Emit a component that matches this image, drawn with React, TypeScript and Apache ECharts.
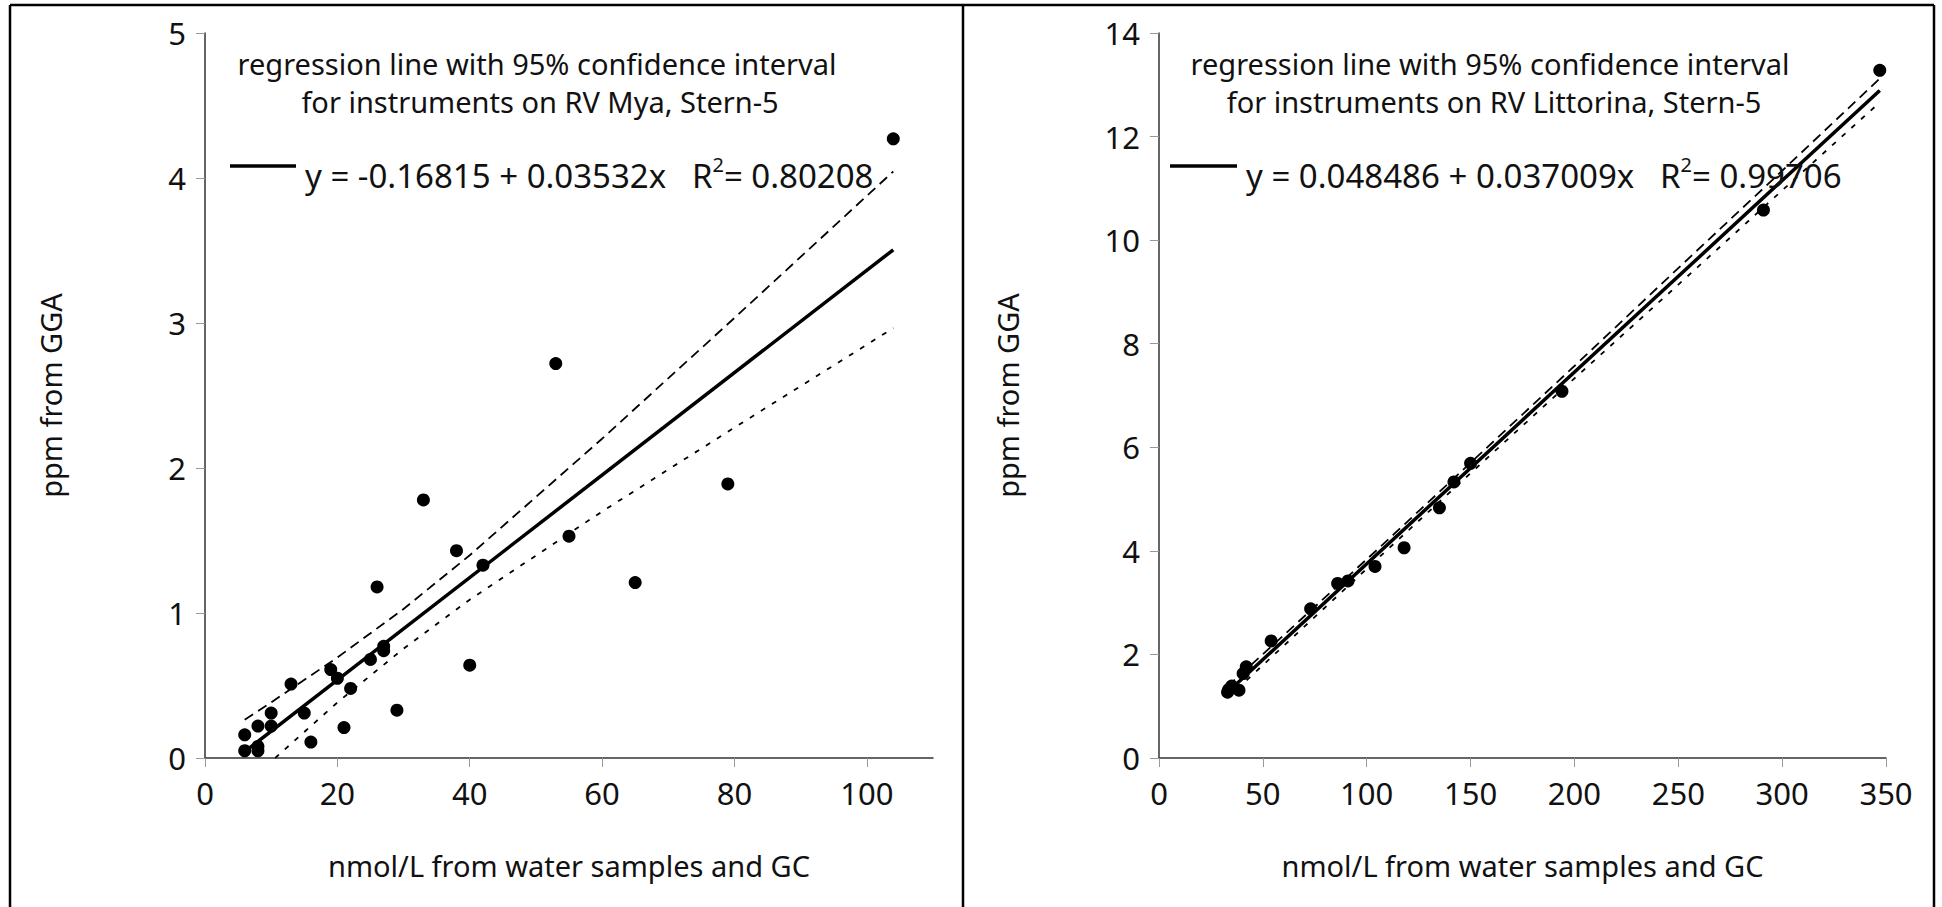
import React, { useEffect, useRef } from "react";
import * as echarts from "echarts";

// ---- Left panel: RV Mya ----
const myaX = [6, 6, 8, 8, 8, 10, 10, 13, 15, 16, 19, 20, 21, 22, 25, 26, 27, 27, 29, 33, 38, 40, 42, 53, 55, 65, 79, 104];
const myaY = [0.16, 0.05, 0.22, 0.08, 0.05, 0.31, 0.22, 0.51, 0.31, 0.11, 0.61, 0.55, 0.21, 0.48, 0.68, 1.18, 0.77, 0.74, 0.33, 1.78, 1.43, 0.64, 1.33, 2.72, 1.53, 1.21, 1.89, 4.27];
const myaFitX = [6, 104];
const myaFitY = [0.044, 3.505];
const myaUpperX = [6, 10, 20, 30, 40, 60, 80, 104];
const myaUpperY = [0.264, 0.384, 0.693, 1.028, 1.398, 2.202, 3.035, 4.045];
const myaLowerX = [10.6, 20, 30, 40, 60, 80, 104];
const myaLowerY = [0.0, 0.383, 0.754, 1.092, 1.7, 2.279, 2.965];
const myaXTicks = [0, 20, 40, 60, 80, 100];
const myaYTicks = [0, 1, 2, 3, 4, 5];

// ---- Right panel: RV Littorina ----
const litX = [33, 33.5, 35, 38.5, 40.5, 42, 54, 73, 86, 91, 104, 118, 135, 142, 150, 194, 291, 347];
const litY = [1.27, 1.32, 1.39, 1.31, 1.63, 1.76, 2.26, 2.88, 3.37, 3.42, 3.7, 4.06, 4.83, 5.33, 5.69, 7.08, 10.58, 13.28];
const litFitX = [33, 347];
const litFitY = [1.27, 12.891];
const litUpperX = [33, 105, 150, 200, 250, 300, 347];
const litUpperY = [1.38, 4.02, 5.7, 7.57, 9.46, 11.34, 13.12];
const litLowerX = [33, 105, 150, 200, 250, 300, 347];
const litLowerY = [1.16, 3.84, 5.5, 7.33, 9.14, 10.96, 12.66];
const litXTicks = [0, 50, 100, 150, 200, 250, 300, 350];
const litYTicks = [0, 2, 4, 6, 8, 10, 12, 14];

const titleLine1 = "regression line with 95% confidence interval";
const myaLine2 = "for instruments on RV Mya, Stern-5";
const litLine2 = "for instruments on RV Littorina, Stern-5";
const myaEq = "y = -0.16815 + 0.03532x   R{sup|2}= 0.80208";
const litEq = "y = 0.048486 + 0.037009x   R{sup|2}= 0.99706";
const xTitle = "nmol/L from water samples and GC";
const yTitle = "ppm from GGA";

const FONT = "'Noto Sans', 'DejaVu Sans', sans-serif";
const TXT = "#000";

const zip = (xs: number[], ys: number[]) => xs.map((x, i) => [x, ys[i]]);

function xAxis(gridIndex: number, max: number, interval: number, ticks: number[]) {
  return {
    gridIndex,
    type: "value",
    min: 0,
    max,
    interval,
    axisLine: { show: true, onZero: false, lineStyle: { color: "#333", width: 1.5 } },
    axisTick: { show: true, length: 9, customValues: ticks, lineStyle: { color: "#999", width: 1 } },
    axisLabel: { customValues: ticks, fontSize: 31, color: "#111", fontFamily: FONT, margin: 19 },
    splitLine: { show: false },
    name: xTitle,
    nameLocation: "middle",
    nameGap: 93,
    nameTextStyle: { fontSize: 29, color: "#111", fontFamily: FONT },
  };
}

function yAxis(gridIndex: number, max: number, interval: number, ticks: number[], gap: number) {
  return {
    gridIndex,
    type: "value",
    min: 0,
    max,
    interval,
    axisLine: { show: true, onZero: false, lineStyle: { color: "#333", width: 1.5 } },
    axisTick: { show: true, length: 9, customValues: ticks, lineStyle: { color: "#999", width: 1 } },
    axisLabel: { customValues: ticks, fontSize: 31, color: "#111", fontFamily: FONT, margin: 19 },
    splitLine: { show: false },
    name: yTitle,
    nameLocation: "middle",
    nameGap: gap,
    nameTextStyle: { fontSize: 29, color: "#111", fontFamily: FONT },
  };
}

function lineSeries(idx: number, data: number[][], width: number, type: any) {
  return {
    type: "line",
    xAxisIndex: idx,
    yAxisIndex: idx,
    data,
    showSymbol: false,
    symbol: "none",
    lineStyle: { color: "#000", width, type },
    z: 2,
  };
}

function scatterSeries(idx: number, data: number[][]) {
  return {
    type: "scatter",
    xAxisIndex: idx,
    yAxisIndex: idx,
    data,
    symbolSize: 13,
    itemStyle: { color: "#000", opacity: 1 },
    z: 3,
  };
}

function textEl(x: number, y: number, text: string, align: string, size: number) {
  return {
    type: "text",
    x,
    y,
    z: 10,
    style: {
      text,
      fontSize: size,
      fontFamily: FONT,
      fill: "#111",
      align,
      verticalAlign: "middle",
      lineHeight: Math.round(size * 1.25),
      rich: {
        sup: { fontSize: Math.round(size * 0.6), fontFamily: FONT, fill: "#111", verticalAlign: "top", lineHeight: Math.round(size * 1.25) },
      },
    },
  };
}

function borderLine(x1: number, y1: number, x2: number, y2: number) {
  return { type: "line", shape: { x1, y1, x2, y2 }, style: { stroke: "#000", lineWidth: 2.5 }, z: 10 };
}

export default function App() {
  const ref = useRef<HTMLDivElement>(null);
  useEffect(() => {
    if (!ref.current) return;
    const chart = echarts.init(ref.current, undefined, { renderer: "svg" });
    chart.setOption({
      animation: false,
      backgroundColor: "#fff",
      grid: [
        { left: 205, top: 33, width: 728, height: 725 },
        { left: 1159, top: 33, width: 727, height: 725 },
      ],
      xAxis: [xAxis(0, 110, 20, myaXTicks), xAxis(1, 350, 50, litXTicks)],
      yAxis: [yAxis(0, 5, 1, myaYTicks, 140), yAxis(1, 14, 2, litYTicks, 137)],
      series: [
        lineSeries(0, zip(myaUpperX, myaUpperY), 1.8, [10, 6]),
        lineSeries(0, zip(myaLowerX, myaLowerY), 1.8, [5, 8]),
        lineSeries(0, zip(myaFitX, myaFitY), 3.5, "solid"),
        scatterSeries(0, zip(myaX, myaY)),
        lineSeries(1, zip(litUpperX, litUpperY), 1.8, [10, 6]),
        lineSeries(1, zip(litLowerX, litLowerY), 1.8, [5, 8]),
        lineSeries(1, zip(litFitX, litFitY), 3.5, "solid"),
        scatterSeries(1, zip(litX, litY)),
      ],
      graphic: [
        borderLine(10, 5, 1934, 5),
        borderLine(10, 5, 10, 907),
        borderLine(963, 5, 963, 907),
        borderLine(1934, 5, 1934, 907),
        textEl(537, 63, titleLine1, "center", 29),
        textEl(540, 101, myaLine2, "center", 29),
        { type: "line", shape: { x1: 230, y1: 166, x2: 296, y2: 166 }, style: { stroke: "#000", lineWidth: 3.5 }, z: 10 },
        textEl(305, 175, myaEq, "left", 33),
        textEl(1490, 63, titleLine1, "center", 29),
        textEl(1494, 101, litLine2, "center", 29),
        { type: "line", shape: { x1: 1170, y1: 166, x2: 1237, y2: 166 }, style: { stroke: "#000", lineWidth: 3.5 }, z: 10 },
        textEl(1246, 175, litEq, "left", 33),
      ],
    });
    return () => chart.dispose();
  }, []);
  return <div ref={ref} style={{ position: "absolute", left: 0, top: 0, width: 1942, height: 907 }} />;
}
